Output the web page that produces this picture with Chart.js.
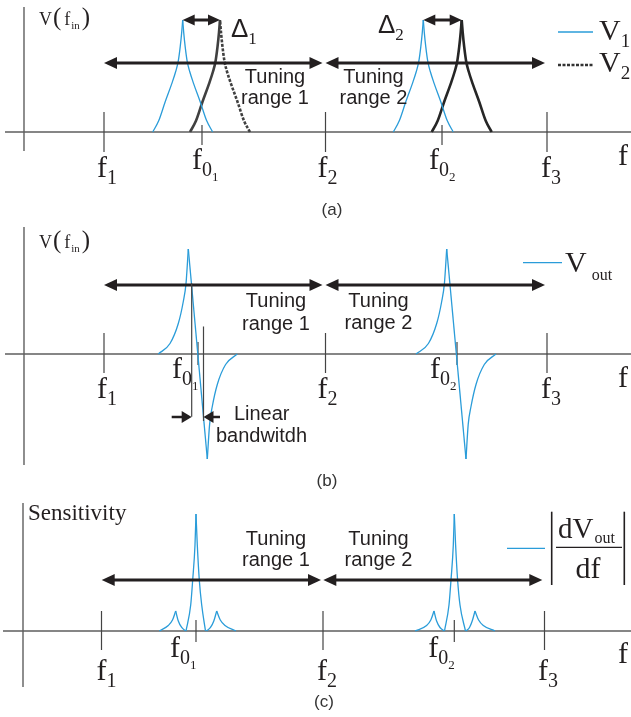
<!DOCTYPE html>
<html lang="en">
<head>
  <meta charset="UTF-8" />
  <title>Tuning ranges, V(f) and sensitivity</title>
  <script src="https://cdn.jsdelivr.net/npm/chart.js"></script>
  <style>
    body { margin: 0; background: #fff; }
    .wrap { position: relative; width: 631px; height: 717px; overflow: hidden; }
    canvas { position: absolute; left: 0; }
  </style>
</head>
<body>
  <div class="wrap">
    <canvas id="panelA" width="631" height="218" style="top:0;width:631px;height:218px"></canvas>
    <canvas id="panelB" width="631" height="272" style="top:218px;width:631px;height:272px"></canvas>
    <canvas id="panelC" width="631" height="227" style="top:490px;width:631px;height:227px"></canvas>
  </div>

  <script>
    // frequency in normalised units: f1 = 1, f2 = 2, f3 = 3
    const bandEdges = [1, 2, 3];
    const bandLabels = ['1', '2', '3'];
    const tuningRanges = [[1.0, 1.9865], [2.0, 2.991]];
    const tuningRangesC = [[1.0009, 1.991], [2.0014, 2.9901]];

    // (a) resonance peaks, amplitude 0..1
    const centerA = [1.4424, 2.5260];
    const peakLevels = [0, 0.10, 0.27, 0.43, 0.54, 0.63, 0.76, 0.89, 1];
    const v1Peak1L = [1.2199, 1.2469, 1.2763, 1.3056, 1.3237, 1.3350, 1.3440, 1.3508, 1.3553];
    const v1Peak1R = [1.4907, 1.4637, 1.4343, 1.4050, 1.3869, 1.3756, 1.3666, 1.3598, 1.3553];
    const v2Peak1L = [1.3883, 1.4153, 1.4447, 1.4740, 1.4921, 1.5034, 1.5124, 1.5192, 1.5237];
    const v2Peak1R = [1.6591, 1.6321, 1.6027, 1.5734, 1.5553, 1.5440, 1.5350, 1.5282, 1.5237];
    const v1Peak2L = [2.3061, 2.3331, 2.3625, 2.3918, 2.4099, 2.4212, 2.4302, 2.4370, 2.4415];
    const v1Peak2R = [2.5769, 2.5499, 2.5205, 2.4912, 2.4731, 2.4618, 2.4528, 2.4460, 2.4415];
    const v2Peak2L = [2.4795, 2.5065, 2.5359, 2.5652, 2.5833, 2.5946, 2.6036, 2.6104, 2.6149];
    const v2Peak2R = [2.7503, 2.7233, 2.6939, 2.6646, 2.6465, 2.6352, 2.6262, 2.6194, 2.6149];
    const deltaA = [[1.3553, 1.5237], [2.4415, 2.6149]];

    // (b) Vout = V1 - V2
    const centerB = [1.4244, 2.5937];
    const vout1Rise = [[1.2451, 0], [1.2980, 0.10], [1.3354, 0.29], [1.3580, 0.50], [1.3702, 0.67], [1.3806, 1.0]];
    const vout1Drop = [[1.3806, 1.0], [1.4664, -1.0]];
    const vout1Back = [[1.4664, -1.0], [1.4768, -0.67], [1.4889, -0.50], [1.5115, -0.29], [1.5490, -0.10], [1.6018, 0]];
    const vout2Rise = [[2.4086, 0], [2.4646, 0.10], [2.5020, 0.29], [2.5246, 0.50], [2.5368, 0.67], [2.5472, 1.0]];
    const vout2Drop = [[2.5472, 1.0], [2.6343, -1.0]];
    const vout2Back = [[2.6343, -1.0], [2.6443, -0.67], [2.6569, -0.50], [2.6795, -0.29], [2.7169, -0.10], [2.7698, 0]];
    const bwMarkers = [[1.3959, 0.673, -0.597], [1.4492, 0.262, -0.638]];
    const bwArrows = [[1.3056, 1.3959], [1.5237, 1.4492]];

    // (c) |dVout/df|
    const centerC = [1.4266, 2.5928];
    const sens1 = [
      [[1.2610, 0], [1.3016, 0.047], [1.3205, 0.094], [1.3350, 0.171]],
      [[1.3350, 0.171], [1.3467, 0.085], [1.3621, 0.030], [1.3801, 0]],
      [[1.3815, 0], [1.4027, 0.222], [1.4117, 0.436], [1.4221, 0.735], [1.4266, 1.0]],
      [[1.4266, 1.0], [1.4325, 0.735], [1.4415, 0.436], [1.4524, 0.222], [1.4695, 0]],
      [[1.4740, 0], [1.4921, 0.030], [1.5070, 0.085], [1.5201, 0.171]],
      [[1.5201, 0.171], [1.5363, 0.094], [1.5576, 0.047], [1.6072, 0]]
    ];
    const sens2 = [
      [[2.4154, 0], [2.4677, 0.047], [2.4867, 0.094], [2.5011, 0.171]],
      [[2.5011, 0.171], [2.5129, 0.085], [2.5282, 0.030], [2.5476, 0]],
      [[2.5485, 0], [2.5688, 0.222], [2.5779, 0.436], [2.5883, 0.735], [2.5928, 1.0]],
      [[2.5928, 1.0], [2.5987, 0.735], [2.6077, 0.436], [2.6185, 0.222], [2.6433, 0]],
      [[2.6456, 0], [2.6614, 0.030], [2.6736, 0.085], [2.6862, 0.171]],
      [[2.6862, 0.171], [2.7025, 0.094], [2.7237, 0.047], [2.7765, 0]]
    ];

    const SERIF = '"Liberation Serif", "Times New Roman", serif';
    const SANS = '"Liberation Sans", Arial, sans-serif';
    const BLUE = '#2a9cd9';
    const INK = '#231f20';
    const AXIS = '#5e5e5e';

    function curve(pts, color, width, dash) {
      return {
        data: pts.map(p => ({ x: p[0], y: p[1] })),
        showLine: true,
        borderColor: color,
        borderWidth: width,
        borderDash: dash || [],
        pointRadius: 0,
        fill: false,
        cubicInterpolationMode: 'monotone'
      };
    }
    // one flank of a peak: x positions paired with the shared levels
    const flank = xs => xs.map((x, i) => [x, peakLevels[i]]);

    // text made of pieces with their own size / baseline shift
    function rich(ctx, x, y, parts, align) {
      let total = 0;
      parts.forEach(p => {
        ctx.font = p.size + 'px ' + (p.family || SERIF);
        p.w = ctx.measureText(p.t).width;
        total += p.w + (p.dx || 0);
      });
      let cx = align === 'center' ? x - total / 2 : x;
      ctx.textAlign = 'left';
      ctx.textBaseline = 'alphabetic';
      ctx.fillStyle = INK;
      parts.forEach(p => {
        cx += p.dx || 0;
        ctx.font = p.size + 'px ' + (p.family || SERIF);
        ctx.fillText(p.t, cx, y + (p.dy || 0));
        cx += p.w;
      });
    }
    const fLabel = s => [{ t: 'f', size: 30 }, { t: s, size: 20, dy: 7 }];
    const f0Label = s => [{ t: 'f', size: 30 }, { t: '0', size: 20, dy: 7 }, { t: s, size: 13, dy: 12 }];
    const vfin = () => [{ t: 'V', size: 18 }, { t: '(', size: 25, dx: 1 }, { t: 'f', size: 18, dx: 3 }, { t: 'in', size: 11, dy: 4, dx: 1 }, { t: ')', size: 25, dx: 2 }];

    function seg(ctx, x0, y0, x1, y1, color, width, dash) {
      ctx.save();
      ctx.strokeStyle = color;
      ctx.lineWidth = width;
      ctx.setLineDash(dash || []);
      ctx.beginPath();
      ctx.moveTo(x0, y0);
      ctx.lineTo(x1, y1);
      ctx.stroke();
      ctx.restore();
    }

    function head(ctx, tip, y, dir, len, half) {
      ctx.beginPath();
      ctx.moveTo(tip, y);
      ctx.lineTo(tip - dir * len, y - half);
      ctx.lineTo(tip - dir * len, y + half);
      ctx.closePath();
      ctx.fill();
    }

    // horizontal arrow, head at `to`, optionally also at `from`
    function hArrow(ctx, from, to, y, both, width, len, half) {
      const dir = Math.sign(to - from);
      ctx.save();
      ctx.fillStyle = INK;
      seg(ctx, from + (both ? dir * len * 0.6 : 0), y, to - dir * len * 0.6, y, INK, width);
      head(ctx, to, y, dir, len, half);
      if (both) head(ctx, from, y, -dir, len, half);
      ctx.restore();
    }

    function tuningText(ctx, cx, y1, y2, n) {
      ctx.fillStyle = INK;
      ctx.font = '20px ' + SANS;
      ctx.textAlign = 'center';
      ctx.textBaseline = 'alphabetic';
      ctx.fillText('Tuning', cx, y1);
      ctx.fillText('range ' + n, cx, y2);
    }

    function title(ctx, t, cx, y) {
      ctx.fillStyle = '#333';
      ctx.font = '17px ' + SANS;
      ctx.textAlign = 'center';
      ctx.textBaseline = 'alphabetic';
      ctx.fillText(t, cx, y);
    }

    function makePanel(id, cfg) {
      const decor = {
        id: 'decor',
        beforeDatasetsDraw(chart) {
          const ctx = chart.ctx;
          const X = v => chart.scales.x.getPixelForValue(v);
          const Y = v => chart.scales.y.getPixelForValue(v);
          const y0 = Y(0);
          seg(ctx, X(cfg.axis.xFrom), y0, chart.width, y0, AXIS, 1.4);
          seg(ctx, X(cfg.axis.yAt), Y(cfg.axis.yTop), X(cfg.axis.yAt), Y(cfg.axis.yBottom), AXIS, 1.4);
          bandEdges.forEach(f => seg(ctx, X(f), y0 + cfg.tick[0], X(f), y0 + cfg.tick[1], '#444', 1.2));
          cfg.centers.forEach(f => seg(ctx, X(f), y0 + cfg.tick0[0], X(f), y0 + cfg.tick0[1], '#444', 1.2));
        },
        afterDatasetsDraw(chart) {
          const ctx = chart.ctx;
          const X = v => chart.scales.x.getPixelForValue(v);
          const Y = v => chart.scales.y.getPixelForValue(v);
          bandEdges.forEach((f, i) => rich(ctx, X(f) + cfg.labelDx[i], cfg.labelY, fLabel(bandLabels[i])));
          cfg.centers.forEach((f, i) => rich(ctx, X(f) + cfg.label0Dx[i], cfg.label0Y, f0Label(String(i + 1))));
          rich(ctx, 618, cfg.fY, [{ t: 'f', size: 30 }]);
          cfg.ranges.forEach(r => hArrow(ctx, X(r[0]), X(r[1]), Y(cfg.rangeY), true, 3, 13, 6));
          cfg.decorate(ctx, X, Y);
        }
      };
      return new Chart(document.getElementById(id), {
        type: 'scatter',
        data: { datasets: cfg.datasets },
        options: {
          responsive: false,
          maintainAspectRatio: false,
          animation: false,
          events: [],
          layout: { padding: 0 },
          plugins: { legend: { display: false }, tooltip: { enabled: false } },
          scales: {
            x: { type: 'linear', display: false, min: cfg.xMin, max: cfg.xMax },
            y: { type: 'linear', display: false, min: cfg.yMin, max: cfg.yMax }
          }
        },
        plugins: [decor]
      });
    }

    // ---------- (a)
    makePanel('panelA', {
      xMin: 0.53047, xMax: 3.37923, yMin: -0.76786, yMax: 1.17857,
      axis: { xFrom: 0.5530, yAt: 0.6388, yTop: 1.116, yBottom: -0.170 },
      tick: [-20, 20], tick0: [-7, 13], centers: centerA,
      labelDx: [-7, -8, -6], labelY: 177, label0Dx: [-10, -13], label0Y: 169, fY: 165,
      ranges: tuningRanges, rangeY: 0.616,
      datasets: [
        curve(flank(v1Peak1L), BLUE, 1.3), curve(flank(v1Peak1R), BLUE, 1.3),
        curve(flank(v1Peak2L), BLUE, 1.3), curve(flank(v1Peak2R), BLUE, 1.3),
        curve(flank(v2Peak1L), '#404040', 2.6), curve(flank(v2Peak1R), '#404040', 2.6, [3, 1.5]),
        curve(flank(v2Peak2L), '#262626', 2.6), curve(flank(v2Peak2R), '#262626', 2.6)
      ],
      decorate(ctx, X, Y) {
        deltaA.forEach(d => hArrow(ctx, X(d[0]), X(d[1]), Y(1), true, 3, 12, 5.5));
        rich(ctx, 231, 37, [{ t: 'Δ', size: 26, family: SANS }, { t: '1', size: 17, dy: 7 }]);
        rich(ctx, 378, 33, [{ t: 'Δ', size: 26, family: SANS }, { t: '2', size: 17, dy: 7 }]);
        rich(ctx, 39, 25, vfin());
        tuningText(ctx, 275, 83, 104, 1);
        tuningText(ctx, 373.5, 83, 104, 2);
        seg(ctx, 558, 32, 593, 32, BLUE, 1.3);
        rich(ctx, 599, 40, [{ t: 'V', size: 30 }, { t: '1', size: 19, dy: 7 }]);
        seg(ctx, 558, 65, 593, 65, '#333', 2.4, [3, 1.5]);
        rich(ctx, 599, 72, [{ t: 'V', size: 30 }, { t: '2', size: 19, dy: 7 }]);
        title(ctx, '(a)', 332, 215);
      }
    });

    // ---------- (b)
    makePanel('panelB', {
      xMin: 0.53047, xMax: 3.37923, yMin: -1.29524, yMax: 1.29524,
      axis: { xFrom: 0.5530, yAt: 0.6388, yTop: 1.2095, yBottom: -1.0571 },
      tick: [-21, 19], tick0: [-12, 11], centers: centerB,
      labelDx: [-7, -8, -6], labelY: 180, label0Dx: [-26, -27], label0Y: 160, fY: 169,
      ranges: tuningRanges, rangeY: 0.657,
      datasets: [vout1Rise, vout1Drop, vout1Back, vout2Rise, vout2Drop, vout2Back].map(p => curve(p, BLUE, 1.3)),
      decorate(ctx, X, Y) {
        bwMarkers.forEach(m => seg(ctx, X(m[0]), Y(m[1]), X(m[0]), Y(m[2]), '#444', 1.2));
        bwArrows.forEach(a => hArrow(ctx, X(a[0]), X(a[1]), Y(-0.6), false, 2.5, 10, 6));
        rich(ctx, 39, 30, vfin());
        tuningText(ctx, 276, 88.5, 111.5, 1);
        tuningText(ctx, 378.5, 88.5, 111, 2);
        ctx.fillStyle = INK;
        ctx.font = '20px ' + SANS;
        ctx.textAlign = 'center';
        ctx.fillText('Linear', 261.7, 202);
        ctx.fillText('bandwitdh', 261.5, 223.5);
        seg(ctx, 523, 44.7, 562, 44.7, BLUE, 1.3);
        rich(ctx, 565, 54, [{ t: 'V', size: 30 }, { t: 'out', size: 16, dy: 8, dx: 5 }]);
        title(ctx, '(b)', 327, 268);
      }
    });

    // ---------- (c)
    makePanel('panelC', {
      xMin: 0.54176, xMax: 3.39052, yMin: -0.73504, yMax: 1.20513,
      axis: { xFrom: 0.5553, yAt: 0.6456, yTop: 1.094, yBottom: -0.479 },
      tick: [-20, 19], tick0: [-11, 11], centers: centerC,
      labelDx: [-5, -6, -6.5], labelY: 190, label0Dx: [-26, -26], label0Y: 167, fY: 173,
      ranges: tuningRangesC, rangeY: 0.436,
      datasets: sens1.concat(sens2).map(p => curve(p, BLUE, 1.3)),
      decorate(ctx, X, Y) {
        rich(ctx, 28, 30, [{ t: 'Sensitivity', size: 23 }]);
        tuningText(ctx, 276, 54.5, 76, 1);
        tuningText(ctx, 378.5, 54.5, 76, 2);
        seg(ctx, 507, 58.3, 545, 58.3, BLUE, 1.3);
        seg(ctx, 551.7, 21.7, 551.7, 95, INK, 1.6);
        seg(ctx, 624.3, 21.7, 624.3, 95, INK, 1.6);
        seg(ctx, 556, 57.3, 622, 57.3, INK, 1.3);
        rich(ctx, 558, 48, [{ t: 'dV', size: 29 }, { t: 'out', size: 16, dy: 5, dx: 1 }]);
        rich(ctx, 588, 88, [{ t: 'df', size: 30 }], 'center');
        title(ctx, '(c)', 324, 217);
      }
    });
  </script>
</body>
</html>
